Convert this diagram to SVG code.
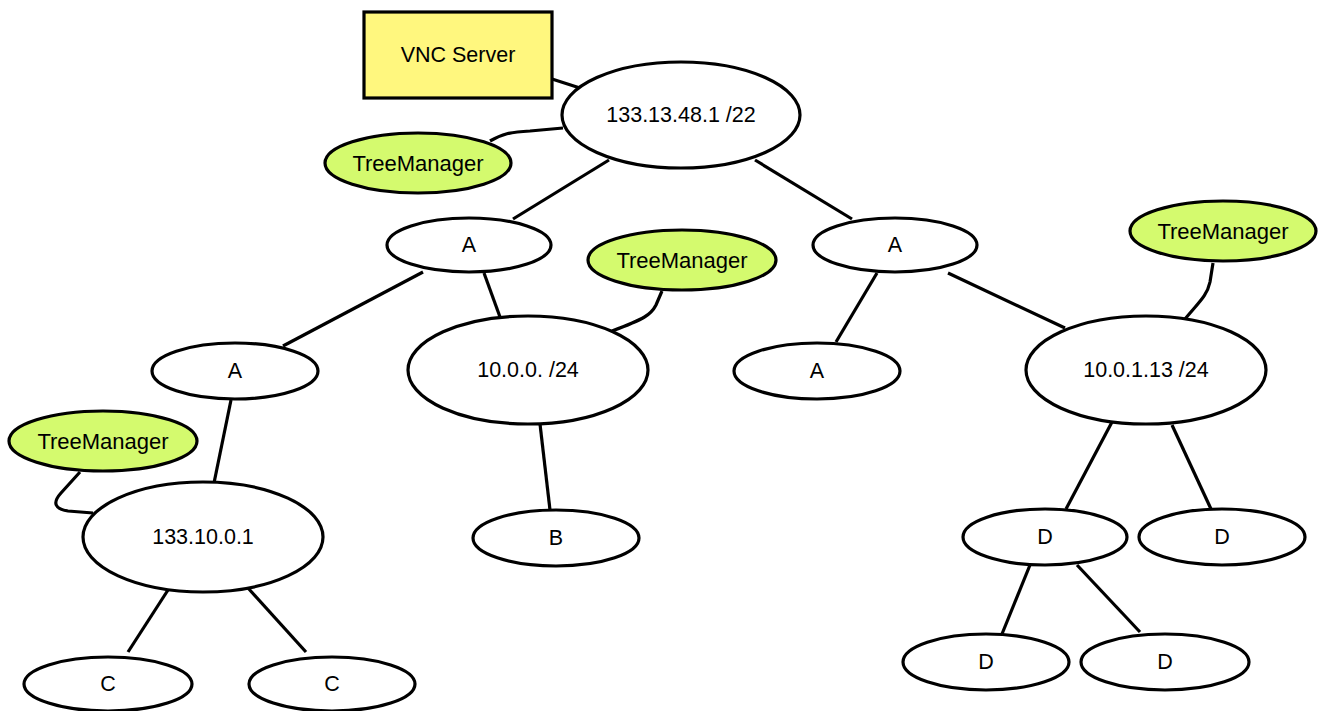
<svg xmlns="http://www.w3.org/2000/svg" width="1328" height="711" viewBox="0 0 1328 711">
<style>
.n{fill:#fff;stroke:#000;stroke-width:3.2}
.tm{fill:#d4fa6e;stroke:#000;stroke-width:3.2}
.vnc{fill:#fff77e;stroke:#000;stroke-width:3.2}
.e{fill:none;stroke:#000;stroke-width:3.2}
text{font-family:"Liberation Sans",Arial,sans-serif;font-size:21.5px;text-anchor:middle;dominant-baseline:central;fill:#000}
.tmt{font-size:22px}
</style>
<rect width="1328" height="711" fill="#fff"/>
<g id="connectors">
<path class="e" d="M552,79 L580,88"/>
<path class="e" d="M490,141 C502,134 510,132 530,131 L563,128"/>
<path class="e" d="M609,160 L513,219"/>
<path class="e" d="M755,160 L852,219"/>
<path class="e" d="M423,272 L283,346"/>
<path class="e" d="M484,273 L500,317"/>
<path class="e" d="M662,291 L656,305 C651,315 644,319 612,331"/>
<path class="e" d="M877,273 L836,342"/>
<path class="e" d="M948,273 L1065,328"/>
<path class="e" d="M1213,263 L1210,282 C1207,296 1199,302 1185,319"/>
<path class="e" d="M231,400 L214,483"/>
<path class="e" d="M80,472 L61,493 C52,503 55,509 68,511 L93,513"/>
<path class="e" d="M168,590 L128,652"/>
<path class="e" d="M248,588 L306,652"/>
<path class="e" d="M540,424 L550,510"/>
<path class="e" d="M1112,422 L1066,509"/>
<path class="e" d="M1172,425 L1211,509"/>
<path class="e" d="M1030,565 L1002,634"/>
<path class="e" d="M1077,565 L1140,632"/>
</g>
<g id="vnc"><rect class="vnc" x="364" y="12" width="188" height="86"/><text x="458" y="55">VNC Server</text></g>
<g id="root"><ellipse class="n" cx="681" cy="115" rx="119" ry="53"/><text x="681" y="115">133.13.48.1 /22</text></g>
<g id="tm1"><ellipse class="tm" cx="418" cy="163" rx="93" ry="30"/><text class="tmt" x="418" y="163">TreeManager</text></g>
<g id="a1"><ellipse class="n" cx="469" cy="245" rx="82" ry="27"/><text x="469" y="245">A</text></g>
<g id="tm2"><ellipse class="tm" cx="682" cy="260" rx="94" ry="30"/><text class="tmt" x="682" y="260">TreeManager</text></g>
<g id="a2"><ellipse class="n" cx="895" cy="245" rx="82" ry="27"/><text x="895" y="245">A</text></g>
<g id="tm3"><ellipse class="tm" cx="1223" cy="231" rx="93" ry="30"/><text class="tmt" x="1223" y="231">TreeManager</text></g>
<g id="a3"><ellipse class="n" cx="235" cy="371" rx="83" ry="28"/><text x="235" y="371">A</text></g>
<g id="net1"><ellipse class="n" cx="528" cy="370" rx="120" ry="54"/><text x="528" y="370">10.0.0. /24</text></g>
<g id="a4"><ellipse class="n" cx="817" cy="371" rx="83" ry="28"/><text x="817" y="371">A</text></g>
<g id="net2"><ellipse class="n" cx="1146" cy="370" rx="120" ry="54"/><text x="1146" y="370">10.0.1.13 /24</text></g>
<g id="tm4"><ellipse class="tm" cx="103" cy="441" rx="94" ry="30"/><text class="tmt" x="103" y="441">TreeManager</text></g>
<g id="host"><ellipse class="n" cx="203" cy="537" rx="120" ry="55"/><text x="203" y="537">133.10.0.1</text></g>
<g id="b"><ellipse class="n" cx="556" cy="538" rx="83" ry="28"/><text x="556" y="538">B</text></g>
<g id="d1"><ellipse class="n" cx="1045" cy="537" rx="82" ry="28"/><text x="1045" y="537">D</text></g>
<g id="d2"><ellipse class="n" cx="1222" cy="537" rx="83" ry="28"/><text x="1222" y="537">D</text></g>
<g id="c1"><ellipse class="n" cx="108" cy="684" rx="84" ry="27"/><text x="108" y="684">C</text></g>
<g id="c2"><ellipse class="n" cx="332" cy="684" rx="83" ry="27"/><text x="332" y="684">C</text></g>
<g id="d3"><ellipse class="n" cx="986" cy="662" rx="83" ry="28"/><text x="986" y="662">D</text></g>
<g id="d4"><ellipse class="n" cx="1165" cy="662" rx="84" ry="28"/><text x="1165" y="662">D</text></g>
</svg>
